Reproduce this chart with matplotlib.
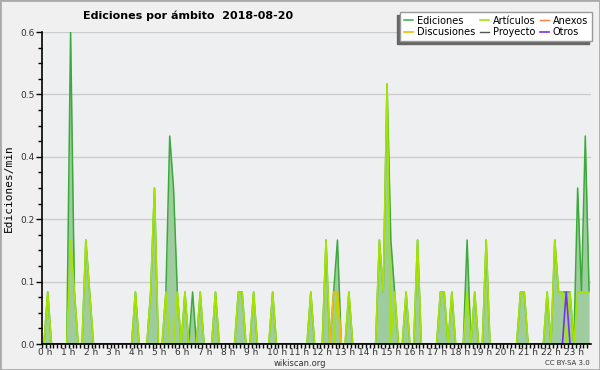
import numpy as np
import matplotlib
matplotlib.use('Agg')
import matplotlib.pyplot as plt
from matplotlib.patches import Rectangle
from matplotlib.transforms import ScaledTranslation

# edits per minute, 10-minute bins (144 per day); only non-zero bins listed
total_bins = [1, 7, 8, 11, 12, 24, 28, 29, 32, 33, 34, 35, 37, 39, 41, 45, 51, 52, 55, 60,
              70, 74, 76, 77, 80, 88, 89, 90, 91, 92, 95, 98, 104, 105, 107, 111, 113, 116,
              125, 126, 132, 134, 135, 136, 137, 138, 140, 141, 142, 143]
total_vals = [0.1, 0.6, 0.1, 0.2, 0.1, 0.1, 0.1, 0.3, 0.1, 0.4, 0.3, 0.1, 0.1, 0.1, 0.1, 0.1, 0.1, 0.1, 0.1, 0.1,
              0.1, 0.2, 0.1, 0.2, 0.1, 0.2, 0.1, 0.5, 0.2, 0.1, 0.1, 0.2, 0.1, 0.1, 0.1, 0.2, 0.1, 0.2,
              0.1, 0.1, 0.1, 0.2, 0.1, 0.1, 0.1, 0.1, 0.3, 0.1, 0.4, 0.1]

art_bins = [1, 7, 8, 11, 12, 24, 28, 29, 32, 35, 37, 41, 45, 51, 52, 55, 60, 70, 74, 77, 80,
            88, 89, 90, 92, 95, 98, 104, 105, 107, 111, 113, 116, 125, 126, 132, 134, 135,
            136, 138, 140, 141, 142, 143]
art_vals = [0.1, 0.2, 0.1, 0.2, 0.1, 0.1, 0.1, 0.3, 0.1, 0.1, 0.1, 0.1, 0.1, 0.1, 0.1, 0.1, 0.1, 0.1, 0.2, 0.1, 0.1,
            0.2, 0.1, 0.5, 0.1, 0.1, 0.2, 0.1, 0.1, 0.1, 0.1, 0.1, 0.2, 0.1, 0.1, 0.1, 0.2, 0.1,
            0.1, 0.1, 0.1, 0.1, 0.1, 0.1]

disc_bins = [76, 77]
disc_vals = [0.1, 0.1]
otros_bins = [137]
otros_vals = [0.1]
anexos_bins = []
anexos_vals = []
proy_bins = []
proy_vals = []

hour_labels = [f'{h} h' for h in range(24)]
n_bins = 144


def series(bins, vals):
    s = np.zeros(n_bins)
    s[bins] = vals
    return s


x = (np.arange(n_bins) + 0.5) / 6.0
total = series(total_bins, total_vals)

fig = plt.figure(figsize=(6, 3.7), dpi=100, facecolor='#f0f0f0')
ax = fig.add_axes([42 / 600, 1 - 344 / 370, 549 / 600, 312 / 370])
ax.set_facecolor('#edeff1')

ax.fill_between(x, 0, total, color='#9fcc9f', lw=0)
l_tot, = ax.plot(x, total, color='#3aaa3a', lw=1.1, label='Ediciones')
l_art, = ax.plot(x, series(art_bins, art_vals), color='#a6e400', lw=1.2, label='Artículos')
l_anx, = ax.plot(x, series(anexos_bins, anexos_vals), color='#ff7f40', lw=1.0, label='Anexos')
l_dis, = ax.plot(x, series(disc_bins, disc_vals), color='#f5b800', lw=1.2, label='Discusiones')
l_pro, = ax.plot(x, series(proy_bins, proy_vals), color='#555555', lw=1.0, label='Proyecto')
l_otr, = ax.plot(x, series(otros_bins, otros_vals), color='#7a30e8', lw=1.2, label='Otros')

ax.set_xlim(0, 24)
ax.set_ylim(0, 0.6)
ax.set_yticks(np.arange(0, 0.61, 0.12))
ax.set_yticklabels([f'{v:.1f}' for v in np.arange(0, 0.61, 0.12)])
ax.set_yticks(np.arange(0, 0.61, 0.03), minor=True)
ax.set_xticks(range(24))
ax.set_xticklabels(hour_labels)
ax.set_xticks(np.arange(0, 24, 1 / 6), minor=True)
ax.grid(axis='y', color='#cccccc', lw=1)
ax.set_axisbelow(True)

for s in ['top', 'right']:
    ax.spines[s].set_visible(False)
for s in ['left', 'bottom']:
    ax.spines[s].set_linewidth(1.2)
ax.tick_params(which='both', direction='out', colors='black', labelcolor='#333333', labelsize=6.5, width=1)
ax.tick_params(which='major', length=4, pad=1)
ax.tick_params(axis='x', which='major', length=3, pad=0)
ax.tick_params(which='minor', length=3)

shift = ScaledTranslation(-3 / 72, 0, fig.dpi_scale_trans)
for lab in ax.get_xticklabels():
    lab.set_horizontalalignment('left')
    lab.set_transform(lab.get_transform() + shift)

ax.set_ylabel('Ediciones/min', fontsize=8, family='DejaVu Sans Mono', labelpad=5)

fig.text(0.313, 0.957, 'Ediciones por ámbito  2018-08-20', ha='center', va='center',
         fontsize=8, fontweight='bold')
fig.text(0.5, 0.018, 'wikiscan.org', ha='center', va='center', fontsize=6, color='#333333')
fig.text(0.983, 0.018, 'CC BY-SA 3.0', ha='right', va='center', fontsize=5, color='#333333')

leg = fig.legend(handles=[l_tot, l_dis, l_art, l_pro, l_anx, l_otr], ncol=3,
                 loc='upper right', bbox_to_anchor=(592 / 600, 1 - 12 / 370),
                 fontsize=7, frameon=True, fancybox=False, edgecolor='#999999',
                 facecolor='white', framealpha=1,
                 handlelength=0.9, handletextpad=0.4, columnspacing=0.5,
                 labelspacing=0.15, borderpad=0.4, borderaxespad=0)
leg.get_frame().set_linewidth(1)

# legend drop shadow, offset down-left
fig.canvas.draw()
bb = leg.get_window_extent()
fig.patches.append(Rectangle((bb.x0 - 3, bb.y0 - 3), bb.width, bb.height,
                             transform=None, color='#666666', zorder=0))

fig.patches.append(Rectangle((0, 0), 1, 1, transform=fig.transFigure, fill=False,
                             edgecolor='#aaaaaa', lw=2))

fig.savefig('out.png', dpi=100, facecolor=fig.get_facecolor())
